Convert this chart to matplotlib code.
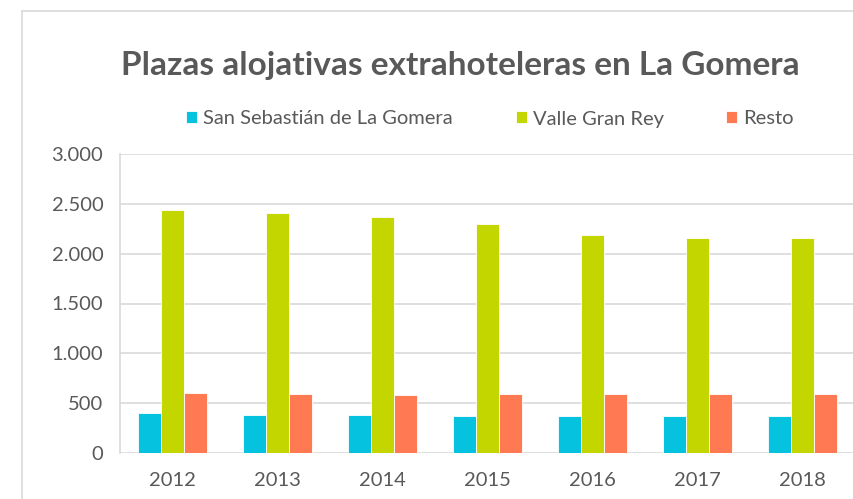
import numpy as np
import matplotlib
matplotlib.use("Agg")
import matplotlib.pyplot as plt
from matplotlib.lines import Line2D

# data
years = ["2012", "2013", "2014", "2015", "2016", "2017", "2018"]
san_sebastian = [404, 381, 380, 371, 371, 371, 368]
valle_gran_rey = [2438, 2410, 2370, 2298, 2187, 2157, 2157]
resto = [599, 589, 585, 588, 589, 589, 589]

series_names = ["San Sebastián de La Gomera", "Valle Gran Rey", "Resto"]
series_colors = ["#05C3DE", "#C4D600", "#FF7A52"]
y_ticks = [0, 500, 1000, 1500, 2000, 2500, 3000]

TEXT = "#595959"
GRID = "#D9D9D9"
plt.rcParams["font.family"] = ["Lato", "DejaVu Sans"]

W, H = 854, 499
fig = plt.figure(figsize=(W / 100, H / 100), dpi=100)

# outer chart frame (left and top edges visible)
fig.add_artist(Line2D([22 / W, 22 / W], [0, 1 - 11 / H], color=GRID, lw=1.2))
fig.add_artist(Line2D([22 / W, 1], [1 - 11 / H, 1 - 11 / H], color=GRID, lw=1.2))

ax = fig.add_axes([120 / W, (H - 452.7) / H, 735 / W, (452.7 - 154.3) / H])

x = np.arange(len(years))
bw = 0.222
for i, (vals, name, col) in enumerate(zip([san_sebastian, valle_gran_rey, resto],
                                          series_names, series_colors)):
    ax.bar(x + (i - 1) * bw, vals, bw, color=col, label=name,
           edgecolor="white", linewidth=0.6, zorder=3)

ax.set_xlim(-0.5, len(years) - 0.5)
ax.set_ylim(0, 3000)
ax.set_yticks(y_ticks)
ax.set_yticklabels([f"{v:,}".replace(",", ".") for v in y_ticks])
ax.set_xticks(x)
ax.set_xticklabels(years)
ax.grid(axis="y", color=GRID, lw=1.2, zorder=0)
ax.tick_params(axis="both", length=0, labelsize=14.5, colors=TEXT)
ax.tick_params(axis="y", pad=12)
ax.tick_params(axis="x", pad=14)
for s in ["top", "right", "bottom"]:
    ax.spines[s].set_visible(False)
ax.spines["left"].set_color(GRID)
ax.spines["left"].set_linewidth(1.2)

fig.text(460 / W, 1 - 65 / H, "Plazas alojativas extrahoteleras en La Gomera",
         ha="center", va="center", fontsize=24, fontweight="bold", color=TEXT)

fig.legend(loc="center", bbox_to_anchor=(490 / W, 1 - 119 / H), ncol=3,
           frameon=False, fontsize=14.5, labelcolor=TEXT, handlelength=0.55,
           handleheight=0.55, handletextpad=0.3, columnspacing=3.1)

fig.savefig("out.png", dpi=100)
